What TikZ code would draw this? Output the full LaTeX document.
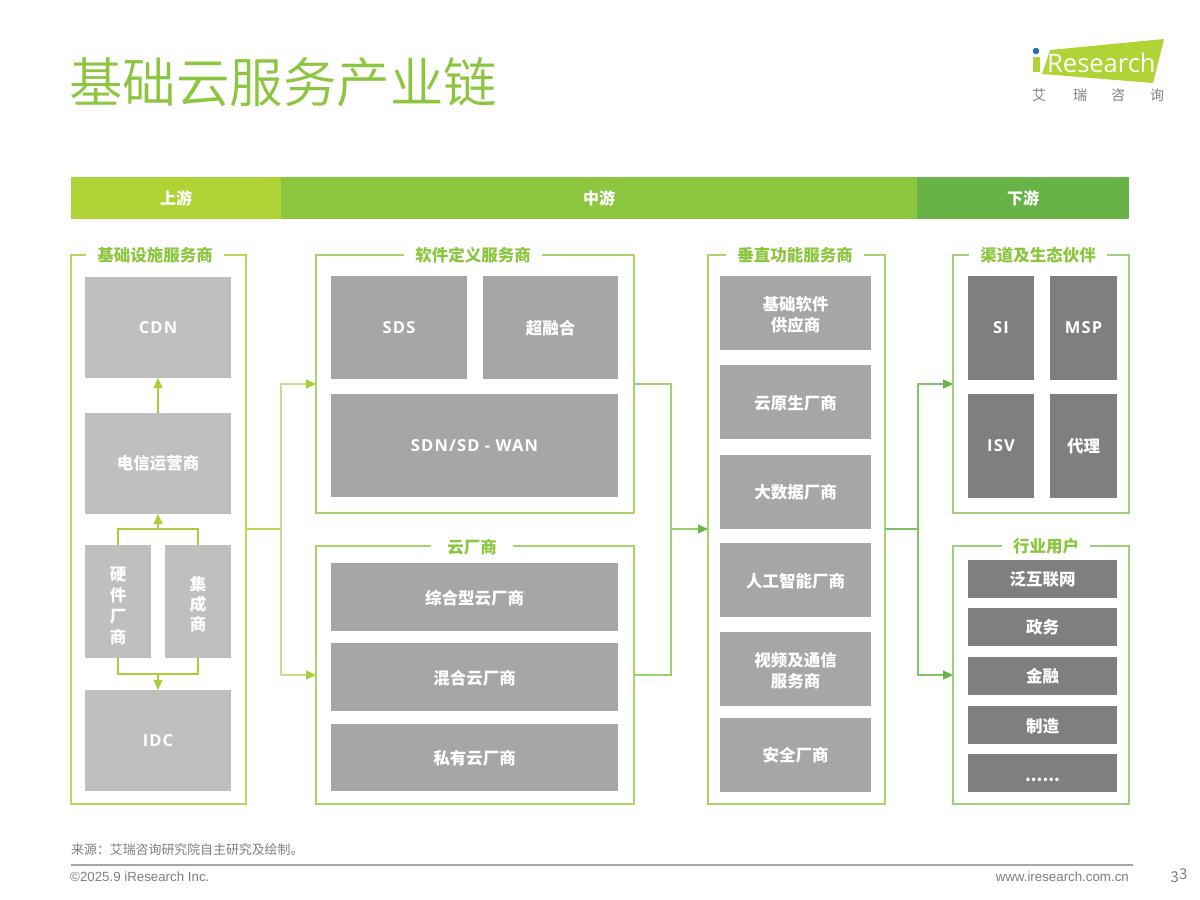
\documentclass[tikz,border=0pt]{standalone}
\usepackage{fontspec}
\setmainfont{Noto Sans CJK SC}
\newfontfamily\lightcjk{Noto Sans CJK SC DemiLight}
\newfontfamily\latinsans{Liberation Sans}
\newfontfamily\logofont{Open Sans}
\newfontfamily\labelfont[LetterSpace=7]{Open Sans}
\usetikzlibrary{arrows.meta}
\definecolor{gTitle}{HTML}{8CC63F}
\definecolor{gA}{HTML}{B0D335}
\definecolor{gB}{HTML}{8CC63F}
\definecolor{gC}{HTML}{67B346}
\definecolor{frA}{HTML}{BAD75B}
\definecolor{frB}{HTML}{A9D46C}
\definecolor{frC}{HTML}{9CCF7E}
\definecolor{lnA}{HTML}{A8CF3A}
\definecolor{busA}{HTML}{C6DF8C}
\definecolor{busB}{HTML}{9BD06F}
\definecolor{busC}{HTML}{82C267}
\definecolor{lnB}{HTML}{6DB84A}
\definecolor{lnC}{HTML}{67B346}
\definecolor{boxA}{HTML}{BFBFBF}
\definecolor{boxB}{HTML}{A6A6A6}
\definecolor{boxC}{HTML}{7F7F7F}
\definecolor{footgray}{HTML}{7F7F7F}
\definecolor{logoblue}{HTML}{2F6DB5}
\newcommand{\bx}[7]{\node[#6,minimum width={(#4-#2)*1pt},minimum height={(#5-#3)*1pt}] (#1) at ({(#2+#4)/2},{(#3+#5)/2}) {#7};}
\newcommand{\ls}{\rule{0pt}{16.5pt}}
\newcommand{\lat}[1]{{\labelfont\fontsize{16.5}{21}\selectfont\bfseries #1}}
\tikzset{
  x=1pt,y=-1pt,
  base/.style={inner sep=0pt,outer sep=0pt,align=center,rectangle},
  band/.style={base,text=white,font=\fontsize{16}{18}\selectfont\bfseries},
  frame/.style={base,draw,line width=1.6pt},
  ftitle/.style={fill=white,inner ysep=1pt,inner xsep=11pt,outer sep=0pt,text=gTitle,font=\fontsize{16.5}{18}\selectfont\bfseries},
  lbl/.style={base,text=white,font=\fontsize{16.5}{21}\selectfont\bfseries},
  ba/.style={lbl,fill=boxA},
  bb/.style={lbl,fill=boxB},
  bc/.style={lbl,fill=boxC},
  conn/.style={line width=1.2pt},
  stub/.style={line width=1.8pt},
  arr/.style={conn,-{Triangle[length=10pt,width=9pt,color=#1,fill=#1]}},
  logochar/.style={inner sep=0pt,text=black!50,font=\fontsize{14}{15}\selectfont},
  foot/.style={inner sep=0pt,text=footgray,font=\latinsans\fontsize{13.3}{15}\selectfont},
}
\begin{document}
\begin{tikzpicture}
\useasboundingbox (0,0) rectangle (1200,900);
\fill[white] (0,0) rectangle (1200,900);
% title
\node[anchor=west,inner sep=0pt,text=gTitle,font=\lightcjk\fontsize{53.5}{60}\selectfont] (title) at (69,82) {基础云服务产业链};
% logo
\fill[gA] (1050,50) -- (1164,39) -- (1153,83) -- (1042,74) -- cycle;
\fill[logoblue] (1036,51) circle (3.3);
\fill[gA] (1033,57) -- (1040,57) -- (1040,72) -- (1033,72) -- cycle;
\node[anchor=west,inner sep=0pt,text=white,font=\logofont\fontsize{25.5}{28}\selectfont] (logotext) at (1047,63) {Research};
\node[logochar] (l1) at (1039,95) {艾};
\node[logochar] (l2) at (1080,95) {瑞};
\node[logochar] (l3) at (1118,95) {咨};
\node[logochar] (l4) at (1157,95) {询};
% bands
\bx{ba1}{71}{177}{281}{219}{band,fill=gA}{上游}
\bx{ba2}{281}{177}{917}{219}{band,fill=gB}{中游}
\bx{ba3}{917}{177}{1129}{219}{band,fill=gC}{下游}
% frames
\bx{f1}{71}{255}{246}{804}{frame,draw=frA}{}
\bx{f2}{316}{255}{634}{513}{frame,draw=frB}{}
\bx{f3}{316}{546}{634}{804}{frame,draw=frB}{}
\bx{f4}{708}{255}{885}{804}{frame,draw=frB}{}
\bx{f5}{953}{255}{1129}{513}{frame,draw=frC}{}
\bx{f6}{953}{546}{1129}{804}{frame,draw=frC}{}
\node[ftitle] (t1) at (155,255) {基础设施服务商};
\node[ftitle] (t2) at (473,255) {软件定义服务商};
\node[ftitle,inner xsep=16pt] (t3) at (472,547) {云厂商};
\node[ftitle] (t4) at (795,255) {垂直功能服务商};
\node[ftitle] (t5) at (1038,255) {渠道及生态伙伴};
\node[ftitle] (t6) at (1046,546) {行业用户};
% boxes
\bx{cdn}{85}{277}{231}{378}{ba}{\lat{CDN}}
\bx{tel}{85}{413}{231}{514}{ba}{电信运营商}
\bx{hw}{85}{545}{151}{658}{ba}{\rule{0pt}{22pt}硬\\件\\厂\\商}
\bx{si0}{165}{545}{231}{658}{ba,font=\fontsize{16.5}{20}\selectfont\bfseries}{\rule{0pt}{20pt}集\\成\\商}
\bx{idc}{85}{690}{231}{791}{ba}{\lat{IDC}}
\bx{sds}{331}{276}{467}{379}{bb}{\lat{SDS}}
\bx{hci}{483}{276}{618}{379}{bb}{\ls 超融合}
\bx{sdn}{331}{394}{618}{497}{bb}{\lat{SDN/SD - WAN}}
\bx{c1}{331}{563}{618}{631}{bb}{\ls 综合型云厂商}
\bx{c2}{331}{643}{618}{711}{bb}{\ls 混合云厂商}
\bx{c3}{331}{724}{618}{791}{bb}{\ls 私有云厂商}
\bx{v1}{720}{276}{871}{350}{bb}{\rule{0pt}{18.5pt}基础软件\\供应商}
\bx{v2}{720}{365}{871}{439}{bb}{\ls 云原生厂商}
\bx{v3}{720}{455}{871}{529}{bb}{大数据厂商}
\bx{v4}{720}{543}{871}{617}{bb}{\ls 人工智能厂商}
\bx{v5}{720}{632}{871}{706}{bb}{\rule{0pt}{18.5pt}视频及通信\\服务商}
\bx{v6}{720}{718}{871}{792}{bb}{安全厂商}
\bx{si}{968}{276}{1034}{380}{bc}{\lat{SI}}
\bx{msp}{1050}{276}{1117}{380}{bc}{\lat{MSP}}
\bx{isv}{968}{394}{1034}{498}{bc}{\lat{ISV}}
\bx{agt}{1050}{394}{1117}{498}{bc}{代理}
\bx{u1}{968}{560}{1117}{598}{bc}{泛互联网}
\bx{u2}{968}{608}{1117}{646}{bc}{政务}
\bx{u3}{968}{657}{1117}{695}{bc}{金融}
\bx{u4}{968}{706}{1117}{744}{bc}{\ls 制造}
\bx{u5}{968}{754}{1117}{792}{bc}{\rule{0pt}{18pt}......}
% connector junctions
\coordinate (jt) at (158,529);
\coordinate (jb) at (158,674);
\coordinate (b1) at (281,529);
\coordinate (b2) at (671,529);
\coordinate (b3) at (918,529);
% left column
\draw[arr=lnA,draw=lnA] (tel.north) -- (cdn.south);
\draw[conn,draw=lnA] (hw.north) |- (jt) -| (si0.north);
\draw[arr=lnA,draw=lnA] (jt) -- (tel.south);
\draw[conn,draw=lnA] (hw.south) |- (jb) -| (si0.south);
\draw[arr=lnA,draw=lnA] (jb) -- (idc.north);
% upstream to midstream
\draw[stub,draw=frA] (f1.east |- b1) -- (b1);
\draw[arr=lnA,draw=busA] (b1) |- (f2.west);
\draw[arr=lnA,draw=busA] (b1) |- (f3.west);
% midstream
\draw[conn,draw=busB] (f2.east) -| (b2);
\draw[conn,draw=busB] (f3.east) -| (b2);
\draw[arr=lnB,draw=busB] (b2) -- (f4.west |- b2);
% downstream
\draw[stub,draw=busC] (f4.east |- b3) -- (b3);
\draw[arr=lnC,draw=busC] (b3) |- (f5.west);
\draw[arr=lnC,draw=busC] (b3) |- (f6.west);
% footer
\node[anchor=west,inner sep=0pt,text=footgray,font=\fontsize{12.9}{15}\selectfont] (src) at (71,850) {来源：艾瑞咨询研究院自主研究及绘制。};
\coordinate (fl) at (71,865);
\coordinate (fr) at (1133,865);
\draw[line width=1.2pt,draw=boxB] (fl) -- (fr);
\node[foot,anchor=west] (copy) at (70,877) {©2025.9 iResearch Inc.};
\node[foot,anchor=east] (web) at (1129,877) {www.iresearch.com.cn};
\node[inner sep=0pt,text=footgray,font=\fontsize{15}{16}\selectfont] (page) at (1179,876) {3\raisebox{3pt}{3}};
\end{tikzpicture}
\end{document}
